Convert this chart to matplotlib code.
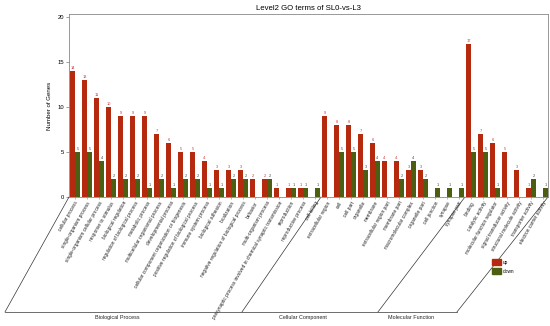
import matplotlib
matplotlib.use("Agg")
import matplotlib.pyplot as plt
from matplotlib.lines import Line2D
from matplotlib.patches import Patch
import numpy as np

plt.rcParams['font.family'] = ['Liberation Sans', 'DejaVu Sans']

title = "Level2 GO terms of SL0-vs-L3"
ylabel = "Number of Genes"
sections = ["Biological Process", "Cellular Component", "Molecular Function"]
legend_labels = ["up", "down"]

bp_terms = ["cellular process", "single-organism process", "single-organism cellular process",
            "response to stimulus", "biological regulation", "regulation of biological process",
            "metabolic process", "multicellular organismal process", "developmental process",
            "cellular component organization or biogenesis", "positive regulation of biological process",
            "immune system process", "biological adhesion", "localization",
            "negative regulation of biological process", "behavior", "multi-organism process",
            "presynaptic process involved in chemical synaptic transmission",
            "reproduction", "reproductive process", "cell killing"]
bp_up = [14, 13, 11, 10, 9, 9, 9, 7, 6, 5, 5, 4, 3, 3, 3, 2, 2, 1, 1, 1, 0]
bp_down = [5, 5, 4, 2, 2, 2, 1, 2, 1, 2, 2, 1, 1, 2, 2, 0, 2, 0, 1, 1, 1]

cc_terms = ["extracellular region", "cell", "cell part", "organelle", "membrane",
            "extracellular region part", "membrane part", "macromolecular complex",
            "organelle part", "cell junction", "synapse", "synapse part"]
cc_up = [9, 8, 8, 7, 6, 4, 4, 3, 3, 0, 0, 0]
cc_down = [0, 5, 5, 3, 4, 0, 2, 4, 2, 1, 1, 1]

mf_terms = ["binding", "catalytic activity", "molecular function regulator",
            "signal transducer activity", "structural molecule activity",
            "transporter activity", "electron carrier activity"]
mf_up = [17, 7, 6, 5, 3, 1, 0]
mf_down = [5, 5, 1, 0, 0, 2, 1]

yticks = [0, 5, 10, 15, 20]

terms = bp_terms + cc_terms + mf_terms
up = np.array(bp_up + cc_up + mf_up)
down = np.array(bp_down + cc_down + mf_down)
n = len(terms)
x = np.arange(n)

up_color = '#B52A0E'
down_color = '#4B5E12'
W, H = 550, 326
fig = plt.figure(figsize=(W / 100, H / 100), dpi=100)
ax = fig.add_axes([69 / W, 1 - 197 / H, (548 - 69) / W, (197 - 14) / H])

bw = 0.42
ax.bar(x, up, width=bw, align='edge', color=up_color, linewidth=0)
ax.bar(x + bw, down, width=bw, align='edge', color=down_color, linewidth=0)
for i in range(n):
    if up[i] > 0:
        ax.text(x[i] + bw / 2, up[i] + 0.15, str(up[i]), ha='center', va='bottom',
                fontsize=2.8, color='#C83030')
    if down[i] > 0:
        ax.text(x[i] + 1.5 * bw, down[i] + 0.15, str(down[i]), ha='center', va='bottom',
                fontsize=2.8, color='#444444')

ax.set_xlim(-0.08, 39.84)
ax.set_ylim(0, 20.33)
ax.set_yticks(yticks)
ax.set_yticklabels([str(v) for v in yticks], fontsize=4.2)
ax.set_xticks(x + bw)
ax.set_xticklabels(terms, rotation=60, ha='right', rotation_mode='anchor', fontsize=3.45,
                   color='#222222')
ax.tick_params(axis='x', length=1.5, width=0.4, pad=1, color='#888888')
ax.tick_params(axis='y', length=2, width=0.4, pad=1.5, color='#555555')
for s in ax.spines.values():
    s.set_color('#888888')
    s.set_linewidth(0.6)
ax.set_ylabel(ylabel, fontsize=4.4, labelpad=4)
ax.set_title(title, fontsize=5.6, pad=3)

# parallelogram frame below the axis
tr = ax.get_xaxis_transform()
yb = (197 - 312) / (197 - 14)
def px2d(px):
    return (px - 70) / 12.0
tops = [-0.08, 20.92, 32.92, 39.84]
bottoms = [px2d(5), px2d(242), px2d(378), px2d(457)]
for t, b in zip(tops, bottoms):
    ax.add_line(Line2D([t, b], [0, yb], transform=tr, color='#333333', lw=0.5, clip_on=False))
ax.add_line(Line2D([bottoms[0], bottoms[-1]], [yb, yb], transform=tr, color='#333333',
                   lw=0.5, clip_on=False))
ys = (197 - 318) / (197 - 14)
for name, px in zip(sections, [117, 303, 411]):
    ax.text(px2d(px), ys, name, transform=tr, ha='center', va='center', fontsize=3.9,
            color='#222222')

handles = [Patch(color=up_color), Patch(color=down_color)]
fig.legend(handles, legend_labels, loc='upper left', bbox_to_anchor=(488 / W, 1 - 255 / H),
           fontsize=3.4, frameon=False, handlelength=1.8, handleheight=1.6,
           handletextpad=0.4, labelspacing=0.6)

fig.savefig('out.png', dpi=100)
